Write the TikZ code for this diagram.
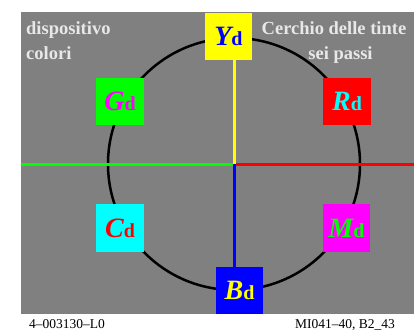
\documentclass[tikz,border=0pt]{standalone}
\usepackage{fontspec}
\setmainfont{Liberation Serif}
\definecolor{bggray}{RGB}{128,128,128}
\definecolor{ttlgray}{RGB}{232,232,232}
\definecolor{cR}{RGB}{255,0,0}
\definecolor{cG}{RGB}{0,255,0}
\definecolor{cB}{RGB}{0,0,255}
\definecolor{cC}{RGB}{0,255,255}
\definecolor{cM}{RGB}{255,0,255}
\definecolor{cY}{RGB}{255,255,0}
\newcommand{\lbl}[2]{\textcolor{#1}{{\fontsize{28}{28}\selectfont\bfseries\itshape #2}{\fontsize{20}{20}\selectfont\bfseries d}}}
\begin{document}
\begin{tikzpicture}[x=1pt,y=-1pt,
  box/.style={minimum size=47.5pt, inner sep=0pt, draw=none},
  ttl/.style={inner sep=0pt, text=ttlgray, font=\fontsize{18.5}{18.5}\selectfont\bfseries},
  foot/.style={inner sep=0pt, text=black, font=\fontsize{13.5}{13.5}\selectfont},
  axis/.style={line width=3pt}]
\useasboundingbox (0,0) rectangle (414,332);
\fill[white] (0,0) rectangle (414,332);
\fill[bggray] (21,12) rectangle (414,314);
\coordinate (O) at (234,164);
\coordinate (Lw) at (21,164);
\coordinate (Re) at (414,164);
\draw[line width=2.5pt] (O) circle [radius=126];
\node[box, fill=cY] (Y) at (228.5,36.5) {\lbl{cB}{Y}};
\node[box, fill=cB] (B) at (239.5,290.5) {\lbl{cY}{B}};
\node[box, fill=cG] (G) at (120,101.5) {\lbl{cM}{G}};
\node[box, fill=cR] (R) at (347,101.5) {\lbl{cC}{R}};
\node[box, fill=cC] (C) at (120,228) {\lbl{cR}{C}};
\node[box, fill=cM] (M) at (346.5,228) {\lbl{cG}{M}};
\draw[axis, cG] (Lw) -- (O);
\draw[axis, cR] (O) -- (Re);
\draw[axis, cY] (Y.south -| O) -- (O);
\draw[axis, cB] (O) -- (B.north -| O);
\node[ttl, anchor=base west] (t1) at (26,34) {dispositivo};
\node[ttl, anchor=base west] (t2) at (26,59) {colori};
\node[ttl, anchor=base] (t3) at (334,34) {Cerchio delle tinte};
\node[ttl, anchor=base] (t4) at (340.5,59) {sei passi};
\node[foot, anchor=base west] (f1) at (29,328) {4--003130--L0};
\node[foot, anchor=base west] (f2) at (295,328) {MI041--40, B2\_43};
\end{tikzpicture}
\end{document}
